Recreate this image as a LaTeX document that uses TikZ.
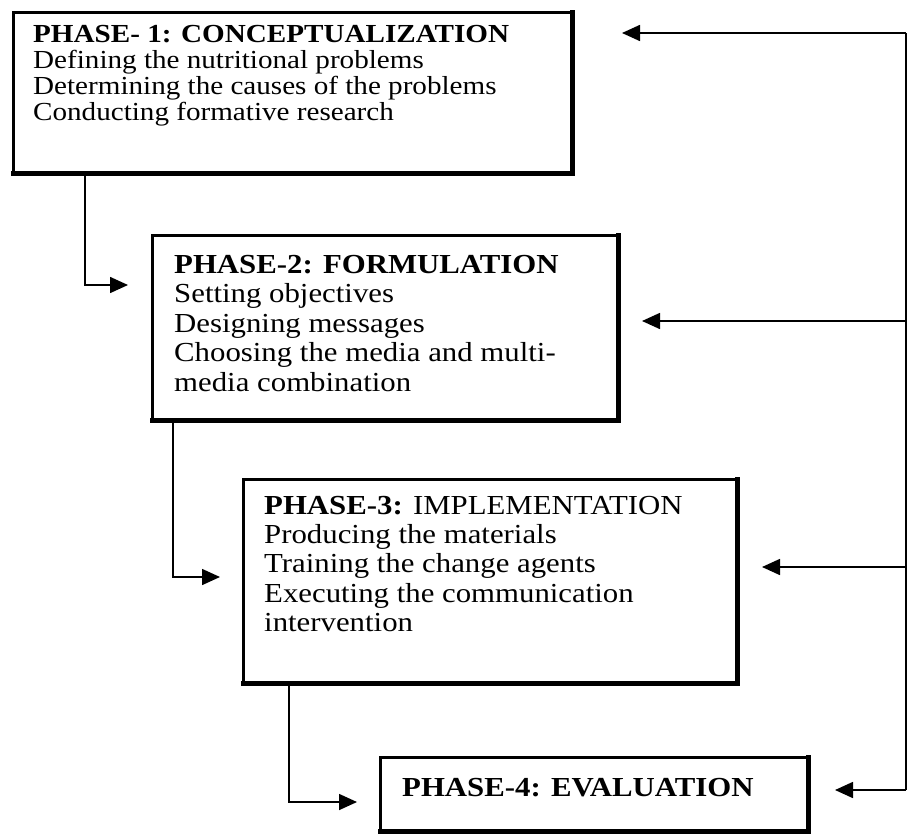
\documentclass[tikz,border=0pt]{standalone}
\usepackage{fontspec}
\setmainfont[FakeStretch=1.12]{Liberation Serif}
\usetikzlibrary{arrows.meta}

\begin{document}
\begin{tikzpicture}[x=1pt,y=-1pt,
  phasebox/.style={draw, line width=3pt, inner sep=0pt, outer sep=0pt, anchor=north west},
  heavyedge/.style={line width=5pt, line cap=rect},
  txt/.style={anchor=base west, inner sep=0pt},
  small/.style={txt, font=\fontsize{26}{26}\selectfont},
  large/.style={txt, font=\fontsize{27.5}{27.5}\selectfont},
  wire/.style={line width=1.6pt},
  conn/.style={wire, -{Triangle[length=18pt,width=16pt]}}
]
\useasboundingbox (0,0) rectangle (912,835);

% phase boxes
\node[phasebox, minimum width=559pt, minimum height=161pt] (p1) at (13,12) {};
\node[phasebox, minimum width=466pt, minimum height=185pt] (p2) at (152,235) {};
\node[phasebox, minimum width=494pt, minimum height=204pt] (p3) at (243,479) {};
\node[phasebox, minimum width=428pt, minimum height=74pt]  (p4) at (380,757) {};

% heavier right-hand and lower edges
\draw[heavyedge] (p1.north east) -- (p1.south east) -- (p1.south west);
\draw[heavyedge] (p2.north east) -- (p2.south east) -- (p2.south west);
\draw[heavyedge] (p3.north east) -- (p3.south east) -- (p3.south west);
\draw[heavyedge] (p4.north east) -- (p4.south east) -- (p4.south west);

% phase 1 text
\node[small] (p1t) at (33,42)  {\textbf{PHASE- 1: CONCEPTUALIZATION}};
\node[small] (p1a) at (33,68)  {Defining the nutritional problems};
\node[small] (p1b) at (33,94)  {Determining the causes of the problems};
\node[small] (p1c) at (33,120) {Conducting formative research};

% phase 2 text
\node[large] (p2t) at (174,273)   {\textbf{PHASE-2: FORMULATION}};
\node[large] (p2a) at (174,302.5) {Setting objectives};
\node[large] (p2b) at (174,332)   {Designing messages};
\node[large] (p2c) at (174,361.5) {Choosing the media and multi-};
\node[large] (p2d) at (174,391)   {media combination};

% phase 3 text
\node[large] (p3t) at (264,514) {\textbf{PHASE-3:} IMPLEMENTATION};
\node[large] (p3a) at (264,543) {Producing the materials};
\node[large] (p3b) at (264,572) {Training the change agents};
\node[large] (p3c) at (264,602) {Executing the communication};
\node[large] (p3d) at (264,631) {intervention};

% phase 4 text
\node[large] (p4t) at (402,796) {\textbf{PHASE-4: EVALUATION}};

% forward connectors on the left
\coordinate (k1) at (85,285);  \coordinate (t1) at (128,285);
\coordinate (k2) at (173,577); \coordinate (t2) at (220,577);
\coordinate (k3) at (289,802); \coordinate (t3) at (357,802);
\draw[conn] (p1.south -| k1) -- (k1) -- (t1);
\draw[conn] (p2.south -| k2) -- (k2) -- (t2);
\draw[conn] (p3.south -| k3) -- (k3) -- (t3);

% feedback loop on the right
\coordinate (r1) at (906,33);  \coordinate (a1) at (622,33);
\coordinate (r2) at (906,321); \coordinate (a2) at (642,321);
\coordinate (r3) at (906,567); \coordinate (a3) at (762,567);
\coordinate (r4) at (906,790); \coordinate (a4) at (835,790);
\draw[wire] (r1) -- (r4);
\draw[conn] (r1) -- (a1);
\draw[conn] (r2) -- (a2);
\draw[conn] (r3) -- (a3);
\draw[conn] (r4) -- (a4);
\end{tikzpicture}
\end{document}
